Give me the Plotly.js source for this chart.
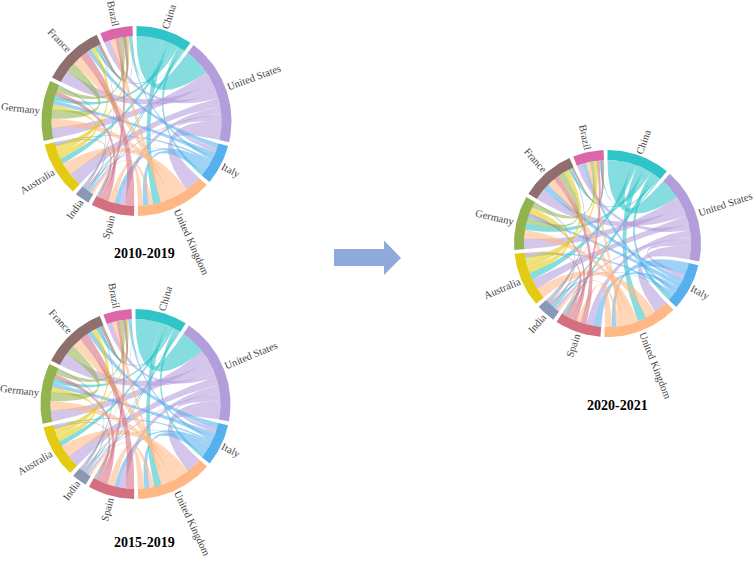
<!DOCTYPE html>
<html><head><meta charset="utf-8">
<script src="https://cdn.plot.ly/plotly-3.0.1.min.js"></script>
<style>html,body{margin:0;padding:0;background:#fff}#c{width:753px;height:561px}</style>
</head><body><div id="c"></div>
<script>
const countries=["China","United States","Italy","United Kingdom","Spain","India","Australia","Germany","France","Brazil"];
const colors=["#2ec4c8","#b39ddb","#56b0ee","#ffb885","#d46f80","#8a98b5","#e3cb12","#93b34f","#8f6e6e","#dc66aa"];

// width of each country's ribbon end towards each partner (degrees of ring)
const flows2010=[
[0,17,2.5,5,1.5,.6,2.5,2.5,2,.5],
[18,0,4,13,4.5,.7,6,8,7.5,3.5],
[2,3,0,6,2.3,.5,1.5,3.5,3.5,2],
[5.4,11.5,3.6,0,3.6,3,6.5,5.5,4.5,2.7],
[.8,4,3.5,4,0,.5,2,3,6,2.5],
[1,1.5,.8,1.5,.8,0,1,1,1,.4],
[4,9,1,8.5,1.2,.6,0,3.8,3,2],
[3,7.5,3,6,3,1,3,0,6.5,3.5],
[2,8.5,3,6.5,5.5,.5,2.5,6.5,0,2.5],
[1,4.5,1.5,3.4,2.5,.4,1.5,2.5,2.5,0]];
const flows2015=[
[0,17,2.5,4.5,1.5,.5,2,1.8,1.7,.5],
[17.5,0,4.5,13,5,.8,6,8,8.5,3.2],
[2,3,0,6.5,2.5,.6,1.5,3.7,4,2],
[5,11,3.6,0,4.5,3.2,6.5,5.5,5.5,2.7],
[1,4.5,3,5,0,.6,2.5,3.5,6,2.5],
[1,1.5,.8,1.5,.8,0,1,1,1.2,.5],
[3.5,8.5,1,8.5,1.2,.6,0,4,3.2,1.8],
[3,7.5,3,6.5,3,1,3,0,6.5,3.5],
[2.5,9,3.5,7,6,.7,3,6.5,0,2.5],
[.8,3.8,1.5,3,2.2,.3,1.3,2.3,2.2,0]];
const flows2020=[
[0,17,3,5.5,2.5,1,3.5,3,2.5,1.5],
[14.5,0,5,9.5,5,1,6,7.5,7,4],
[3,3.5,0,8.5,3,.8,2,3.5,2.8,2.2],
[6,10,3,0,5,2.5,7.5,5,5,3],
[2,5,5.5,3,0,.8,3,3,4,2.5],
[1.5,2,1.2,2,1,0,1.2,1.2,1.2,.7],
[5,7,1.5,7.5,1.2,.8,0,4.5,4,2.5],
[4.5,7.5,2,6,1.5,.8,4,0,4,3.5],
[2,8,4.5,5.5,4,.7,3.3,4.5,0,1.5],
[1,4,2.5,3,2,.3,2.2,2.2,2,0]];

// clockwise order of partners on each country's ring
const orderEarly=[
[1,3,6,7,8,2,4,9,5],[0,7,8,9,6,4,5,2,3],[8,1,7,9,6,4,5,3,0],[1,6,7,8,9,0,5,2,4],[8,1,2,3,7,9,6,0,5],
[3,1,0,6,2,4,7,8,9],[1,3,0,7,8,9,4,2,5],[1,3,8,6,2,0,4,9,5],[1,7,3,4,2,6,0,5,9],[1,3,4,7,8,6,2,0,5]];
const orderLate=[
[1,6,3,7,8,2,4,9,5],[0,7,8,6,9,4,5,2,3],[3,1,8,7,4,9,6,5,0],[1,6,0,7,8,9,5,2,4],[2,1,8,3,7,9,6,0,5],
[3,1,0,6,2,4,7,8,9],[3,1,0,7,8,9,2,4,5],[1,3,0,8,2,4,6,9,5],[1,2,3,4,7,6,0,5,9],[1,2,3,7,6,4,0,8,5]];

const panelTitles=["2010-2019","2015-2019","2020-2021"];
const panels=[
 {flows:flows2010,order:orderEarly,cx:136.5,cy:121,R:95,title:panelTitles[0],tx:144,ty:253},
 {flows:flows2015,order:orderEarly,cx:135.5,cy:404,R:95,title:panelTitles[1],tx:144,ty:542},
 {flows:flows2020,order:orderLate,cx:607.5,cy:243.5,R:93.5,title:panelTitles[2],tx:617,ty:405}];
const GAP=2.4,RING=10,RIBBON_ALPHA=.58,LABEL_SIZE=10.5;

const ctx=document.createElement('canvas').getContext('2d');
ctx.font=LABEL_SIZE+'px "Liberation Serif"';
const rgba=(h,a)=>`rgba(${parseInt(h.slice(1,3),16)},${parseInt(h.slice(3,5),16)},${parseInt(h.slice(5,7),16)},${a})`;
const traces=[],annotations=[];

panels.forEach(p=>{
  const pt=(a,r)=>{const t=a*Math.PI/180;return [p.cx+r*Math.sin(t),p.cy-r*Math.cos(t)];};
  const arc=(a0,a1,r)=>{const n=Math.max(2,Math.ceil(Math.abs(a1-a0)/1.5)+1),o=[];
    for(let i=0;i<n;i++)o.push(pt(a0+(a1-a0)*i/(n-1),r));return o;};
  const total=p.flows.reduce((s,r)=>s+r.reduce((x,y)=>x+y,0),0);
  const k=(360-GAP*countries.length)/total;
  const ends=countries.map(()=>({}));
  let a=0;
  const inner=p.R-RING;
  countries.forEach((name,i)=>{
    const start=a;
    p.order[i].forEach(j=>{const w=p.flows[i][j]*k;ends[i][j]=[a,a+w];a+=w;});
    const end=a; a+=GAP;
    const poly=[...arc(start,end,p.R),...arc(end,start,inner)];
    poly.push(poly[0]);
    traces.push({type:'scatter',mode:'lines',x:poly.map(q=>q[0]),y:poly.map(q=>q[1]),fill:'toself',
      fillcolor:colors[i],line:{width:0,color:colors[i]},hoverinfo:'skip',showlegend:false});
    const mid=(start+end)/2, w=ctx.measureText(name).width;
    const c=pt(mid,p.R+2+w/2);
    annotations.push({x:c[0],y:c[1],xref:'x',yref:'y',text:name,showarrow:false,xanchor:'center',yanchor:'middle',
      textangle:mid<180?mid-90:mid-270,font:{family:'"Liberation Serif",serif',size:LABEL_SIZE,color:'#444'}});
  });
  const curve=(P,Q)=>{const o=[];for(let s=1;s<24;s++){const t=s/24,u=1-t;
    o.push([u*u*P[0]+2*u*t*p.cx+t*t*Q[0],u*u*P[1]+2*u*t*p.cy+t*t*Q[1]]);}return o;};
  for(let i=0;i<countries.length;i++)for(let j=i+1;j<countries.length;j++){
    const A=ends[i][j],B=ends[j][i];
    const a1=arc(A[0],A[1],inner),b1=arc(B[0],B[1],inner);
    const poly=[...a1,...curve(a1[a1.length-1],b1[0]),...b1,...curve(b1[b1.length-1],a1[0])];
    poly.push(poly[0]);
    traces.push({type:'scatter',mode:'lines',x:poly.map(q=>q[0]),y:poly.map(q=>q[1]),fill:'toself',
      fillcolor:rgba(colors[i],RIBBON_ALPHA),line:{width:0,color:colors[i]},hoverinfo:'skip',showlegend:false});
  }
  annotations.push({x:p.tx,y:p.ty,xref:'x',yref:'y',text:'<b>'+p.title+'</b>',showarrow:false,xanchor:'center',yanchor:'middle',
    font:{family:'"Liberation Serif",serif',size:14,color:'#000'}});
});

const layout={width:753,height:561,margin:{l:0,r:0,t:0,b:0},paper_bgcolor:'#fff',plot_bgcolor:'#fff',showlegend:false,
  xaxis:{range:[0,753],visible:false,fixedrange:true},
  yaxis:{range:[561,0],visible:false,fixedrange:true},
  annotations:annotations,
  shapes:[{type:'path',xref:'x',yref:'y',path:'M334,249 L384,249 L384,240.5 L401,258 L384,275 L384,266 L334,266 Z',
    fillcolor:'#8eaadb',line:{width:0}}]};
Plotly.newPlot('c',traces,layout,{displayModeBar:false,staticPlot:true});
</script></body></html>
